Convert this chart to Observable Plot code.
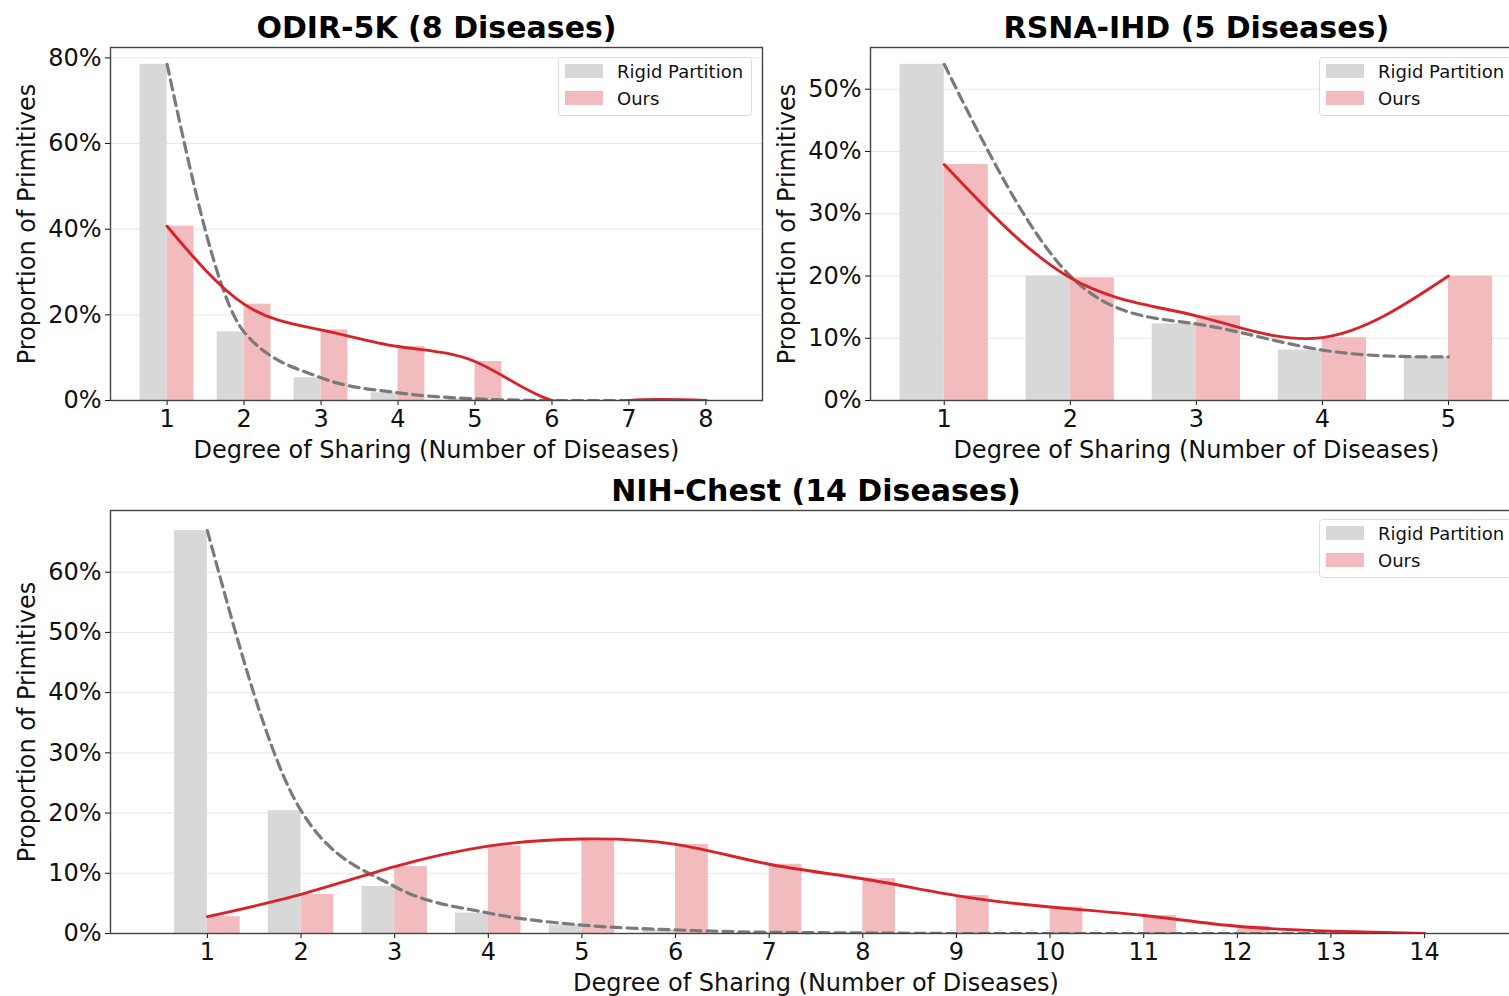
<!DOCTYPE html>
<html>
<head>
<meta charset="utf-8">
<script src="https://cdn.jsdelivr.net/npm/d3@7"></script>
<script src="https://cdn.jsdelivr.net/npm/@observablehq/plot@0.6"></script>
<style>
  html, body { margin: 0; padding: 0; background: #fff; }
  body { width: 1509px; height: 996px; overflow: hidden; position: relative; font-family: "DejaVu Sans", sans-serif; }
  .panel { position: absolute; }
  .legend {
    position: absolute; box-sizing: border-box; height: 59px;
    border: 1px solid #dcdcdc; border-radius: 4px; background: rgba(255,255,255,0.85);
    font-size: 18px; color: #111;
  }
  .legend .row { position: absolute; left: 6px; height: 16px; display: flex; align-items: center; white-space: nowrap; }
  .legend .sw { width: 38px; height: 14px; margin-right: 14px; }
</style>
</head>
<body>
<div id="p1" class="panel" style="left:0px; top:0px; width:780px;"></div>
<div id="p2" class="panel" style="left:780px; top:0px; width:780px;"></div>
<div id="p3" class="panel" style="left:0px; top:463px; width:1560px;"></div>
<script>
// Share of primitives (%) by degree of sharing, per dataset
const odirDegrees = [1, 2, 3, 4, 5, 6, 7, 8];
const odirRigid   = [78.5, 16.0, 5.3, 1.8, 0.4, 0, 0, 0];
const odirOurs    = [40.7, 22.5, 16.5, 12.6, 9.1, 0, 0, 0];

const rsnaDegrees = [1, 2, 3, 4, 5];
const rsnaRigid   = [54.0, 20.0, 12.3, 8.1, 7.0];
const rsnaOurs    = [37.9, 19.7, 13.6, 10.1, 20.0];

const nihDegrees = [1, 2, 3, 4, 5, 6, 7, 8, 9, 10, 11, 12, 13, 14];
const nihRigid   = [66.9, 20.4, 7.8, 3.4, 1.4, 0.6, 0.2, 0.1, 0, 0, 0, 0, 0, 0];
const nihOurs    = [2.8, 6.5, 11.1, 14.5, 15.7, 14.8, 11.5, 9.1, 6.3, 4.4, 3.0, 1.2, 0.4, 0.0];

const odirTicks = [0, 20, 40, 60, 80];
const rsnaTicks = [0, 10, 20, 30, 40, 50];
const nihTicks  = [0, 10, 20, 30, 40, 50, 60];

const seriesNames = ["Rigid Partition", "Ours"];
const xLabel = "Degree of Sharing (Number of Diseases)";
const yLabel = "Proportion of Primitives";

const GRAY = "#d8d8d8", PINK = "#f2bcbf", RED = "#d8232a", DASH = "#7a7a7a";
const BAR = 0.35;

function panel(el, {title, degrees, rigid, ours, yTicks, width, height, margin, rigidCurve}) {
  const rows = degrees.map((k, i) => ({k, rigid: rigid[i], ours: ours[i]}));
  const lo = degrees[0] - BAR, hi = degrees[degrees.length - 1] + BAR;
  const pad = 0.05 * (hi - lo);
  const yMax = d3.max([...rigid, ...ours]) * 1.05;
  const chart = Plot.plot({
    width, height,
    marginLeft: margin[3], marginRight: margin[1], marginTop: margin[0], marginBottom: margin[2],
    style: {fontFamily: "DejaVu Sans", fontSize: "24px", background: "transparent", maxWidth: "none", color: "#111", overflow: "visible"},
    x: {type: "linear", domain: [lo - pad, hi + pad], ticks: degrees, tickFormat: d3.format("d"),
        tickSize: 5, tickPadding: 4, label: null},
    y: {domain: [0, yMax], ticks: yTicks, tickFormat: d => d + "%", grid: true,
        tickSize: 5, tickPadding: 4, label: null},
    marks: [
      Plot.rectY(rows, {x1: d => d.k - BAR, x2: "k", y: "rigid", fill: GRAY}),
      Plot.rectY(rows, {x1: "k", x2: d => d.k + BAR, y: "ours", fill: PINK}),
      Plot.line(rows, {x: "k", y: "rigid", curve: rigidCurve, stroke: DASH, strokeWidth: 3.2, strokeDasharray: "10,6", clip: true}),
      Plot.line(rows, {x: "k", y: "ours", curve: "natural", stroke: RED, strokeWidth: 2.9, clip: true}),
      Plot.frame({stroke: "#444", strokeWidth: 1.4}),
      Plot.text([title], {text: d => d, frameAnchor: "top", lineAnchor: "middle", dy: -19, fontSize: 30, fontWeight: "bold", fill: "#000"}),
      Plot.text([xLabel], {text: d => d, frameAnchor: "bottom", lineAnchor: "middle", dy: 50, fontSize: 24, fill: "#111"}),
      Plot.text([yLabel], {text: d => d, frameAnchor: "left", textAnchor: "middle", lineAnchor: "middle", rotate: -90, dx: -83, fontSize: 24, fill: "#111"})
    ]
  });
  el.appendChild(chart);
}

function legend(el, left, top) {
  const box = document.createElement("div");
  box.className = "legend";
  box.style.left = left + "px";
  box.style.top = top + "px";
  box.style.width = "194px";
  [GRAY, PINK].forEach((c, i) => {
    const row = document.createElement("div");
    row.className = "row";
    row.style.top = (5 + i * 27) + "px";
    const sw = document.createElement("span");
    sw.className = "sw";
    sw.style.background = c;
    const lab = document.createElement("span");
    lab.textContent = seriesNames[i];
    row.appendChild(sw);
    row.appendChild(lab);
    box.appendChild(row);
  });
  el.appendChild(box);
}

panel(document.getElementById("p1"), {
  title: "ODIR-5K (8 Diseases)", degrees: odirDegrees, rigid: odirRigid, ours: odirOurs,
  yTicks: odirTicks, width: 780, height: 462, margin: [47, 18, 62, 110], rigidCurve: "monotone-x"
});
panel(document.getElementById("p2"), {
  title: "RSNA-IHD (5 Diseases)", degrees: rsnaDegrees, rigid: rsnaRigid, ours: rsnaOurs,
  yTicks: rsnaTicks, width: 780, height: 462, margin: [47, 38.3, 62, 90], rigidCurve: "natural"
});
panel(document.getElementById("p3"), {
  title: "NIH-Chest (14 Diseases)", degrees: nihDegrees, rigid: nihRigid, ours: nihOurs,
  yTicks: nihTicks, width: 1560, height: 533, margin: [47, 39, 63, 110], rigidCurve: "monotone-x"
});

legend(document.body, 558, 57);
legend(document.body, 1319, 57);
legend(document.body, 1319, 519);
</script>
</body>
</html>
